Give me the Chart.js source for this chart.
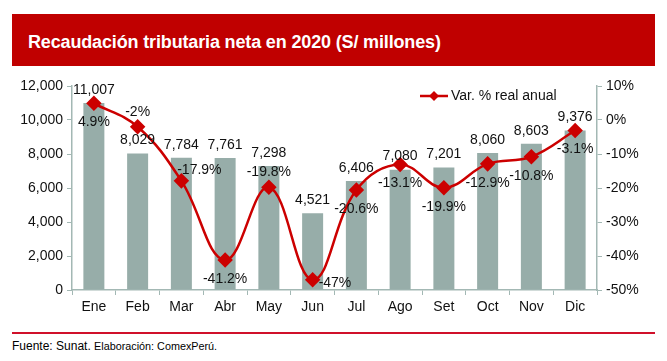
<!DOCTYPE html>
<html>
<head>
<meta charset="utf-8">
<script src="https://cdn.jsdelivr.net/npm/chart.js@4.4.1/dist/chart.umd.min.js"></script>
<style>
  html, body { margin: 0; padding: 0; background: #fff; }
  body { width: 667px; height: 361px; position: relative; overflow: hidden; font-family: "Liberation Sans", Arial, sans-serif; }
  #banner { position: absolute; left: 12px; top: 14px; width: 643px; height: 52px; background: #C00000; }
  #title { position: absolute; left: 16px; top: 18px; color: #fff; font-weight: bold; font-size: 18px; letter-spacing: -0.15px; white-space: nowrap; }
  #chartwrap { position: absolute; left: 0; top: 70px; width: 667px; height: 245px; }
  #rule { position: absolute; left: 12px; top: 332px; width: 643px; height: 2px; background: #D0102A; }
  #foot { position: absolute; left: 12px; top: 339px; font-size: 12px; color: #000; white-space: nowrap; }
  #foot small { font-size: 10.8px; }
</style>
</head>
<body>
<div id="banner"><div id="title">Recaudación tributaria neta en 2020 (S/ millones)</div></div>
<div id="chartwrap"><canvas id="c" width="667" height="245"></canvas></div>
<div id="rule"></div>
<div id="foot">Fuente: Sunat. <small>Elaboración: ComexPerú.</small></div>
<script>
const categories = ["Ene","Feb","Mar","Abr","May","Jun","Jul","Ago","Set","Oct","Nov","Dic"];
const recaudacion = [11007, 8029, 7784, 7761, 7298, 4521, 6406, 7080, 7201, 8060, 8603, 9376];
const variacion = [4.9, -2, -17.9, -41.2, -19.8, -47, -20.6, -13.1, -19.9, -12.9, -10.8, -3.1];
const leftTicks = [0, 2000, 4000, 6000, 8000, 10000, 12000];
const rightTicks = [-50, -40, -30, -20, -10, 0, 10];
const lineLabelPlacement = ["below","above","rightAbove","below","above","right","below","below","below","below","below","below"];

const RED = "#CC0000";
const BAR = "#97ADA9";
const AXIS = "#A3B8B4";
const FONT = "'Liberation Sans', Arial, sans-serif";

const labelsPlugin = {
  id: "labels",
  afterDatasetsDraw(chart) {
    const ctx = chart.ctx;
    ctx.save();
    ctx.font = "14px " + FONT;
    ctx.fillStyle = "#111";
    ctx.textAlign = "center";
    ctx.textBaseline = "middle";
    const barMeta = chart.getDatasetMeta(1);
    barMeta.data.forEach((el, i) => {
      ctx.fillText(recaudacion[i].toLocaleString("en-US"), el.x, el.y - 13);
    });
    const lineMeta = chart.getDatasetMeta(0);
    lineMeta.data.forEach((el, i) => {
      const t = variacion[i] + "%";
      const p = lineLabelPlacement[i];
      let x = el.x, y = el.y;
      ctx.textAlign = "center";
      if (p === "below") { y += 19; }
      else if (p === "above") { y -= 15; }
      else if (p === "rightAbove") { x += 18; y -= 11; }
      else if (p === "right") { ctx.textAlign = "left"; x += 6; y += 3; }
      ctx.fillText(t, x, y);
    });
    // legend
    const lx = 420, ly = 96 - 70;
    ctx.strokeStyle = RED; ctx.lineWidth = 2.5;
    ctx.beginPath(); ctx.moveTo(lx, ly); ctx.lineTo(lx + 28, ly); ctx.stroke();
    ctx.fillStyle = RED;
    ctx.beginPath(); ctx.moveTo(lx + 14, ly - 5); ctx.lineTo(lx + 19, ly); ctx.lineTo(lx + 14, ly + 5); ctx.lineTo(lx + 9, ly); ctx.closePath(); ctx.fill();
    ctx.fillStyle = "#111"; ctx.textAlign = "left";
    ctx.fillText("Var. % real anual", lx + 31, ly);
    ctx.restore();
  }
};

new Chart(document.getElementById("c"), {
  type: "bar",
  data: {
    labels: categories,
    datasets: [
      {
        type: "line",
        label: "Var. % real anual",
        data: variacion,
        yAxisID: "y2",
        borderColor: RED,
        backgroundColor: RED,
        borderWidth: 2.5,
        tension: 0.4,
        pointStyle: "rectRot",
        pointRadius: 6,
        pointHoverRadius: 6,
        pointBackgroundColor: RED,
        pointBorderColor: RED,
        order: 0
      },
      {
        type: "bar",
        label: "Recaudación",
        data: recaudacion,
        yAxisID: "y",
        backgroundColor: BAR,
        barPercentage: 0.6,
        categoryPercentage: 0.8,
        order: 1
      }
    ]
  },
  plugins: [labelsPlugin],
  options: {
    responsive: false,
    animation: false,
    devicePixelRatio: 1,
    layout: { padding: { top: 16, left: 0, right: 0, bottom: 0 } },
    plugins: { legend: { display: false }, tooltip: { enabled: false } },
    scales: {
      x: {
        offset: true,
        grid: { display: true, drawOnChartArea: false, drawTicks: true, tickLength: 5, color: AXIS, offset: true },
        border: { color: AXIS, width: 1.5 },
        ticks: { color: "#111", font: { family: FONT, size: 14 }, padding: 4 },
        afterFit(s) { s.height = 25; }
      },
      y: {
        position: "left",
        min: 0, max: 12000,
        afterBuildTicks(s) { s.ticks = leftTicks.map(v => ({ value: v })); },
        grid: { drawOnChartArea: false, drawTicks: true, tickLength: 5, color: AXIS },
        border: { color: AXIS, width: 1.5 },
        ticks: { color: "#111", font: { family: FONT, size: 14 }, padding: 4, callback: v => v.toLocaleString("en-US") },
        afterFit(s) { s.width = 72; }
      },
      y2: {
        position: "right",
        min: -50, max: 10,
        afterBuildTicks(s) { s.ticks = rightTicks.map(v => ({ value: v })); },
        grid: { drawOnChartArea: false, drawTicks: true, tickLength: 5, color: AXIS },
        border: { color: AXIS, width: 1.5 },
        ticks: { color: "#111", font: { family: FONT, size: 14 }, padding: 4, callback: v => v + "%" },
        afterFit(s) { s.width = 70; }
      }
    }
  }
});
</script>
</body>
</html>
